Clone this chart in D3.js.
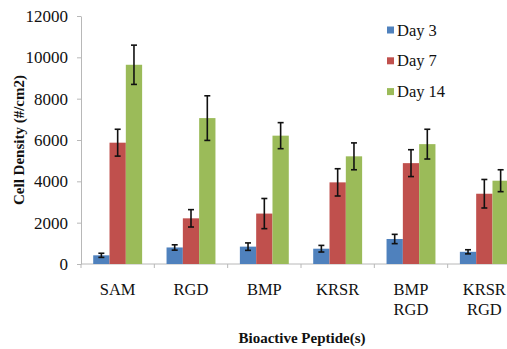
<!DOCTYPE html>
<html><head><meta charset="utf-8">
<script src="https://cdn.jsdelivr.net/npm/d3@7"></script>
<style>body{margin:0;background:#fff;} svg{display:block;} svg text{font-family:"Liberation Serif","Times New Roman",serif;}</style>
</head><body>
<svg id="c" width="507" height="349"></svg>
<script>
const categories = ["SAM", "RGD", "BMP", "KRSR", "BMP\nRGD", "KRSR\nRGD"];
const seriesNames = ["Day 3", "Day 7", "Day 14"];
const day3 = [420, 800, 840, 740, 1210, 590];
const day3Err = [100, 130, 180, 160, 225, 100];
const day7 = [5870, 2210, 2440, 3950, 4880, 3400];
const day7Err = [650, 420, 730, 660, 650, 690];
const day14 = [9640, 7060, 6210, 5210, 5800, 4030];
const day14Err = [950, 1080, 630, 650, 720, 530];
const yTicks = [0, 2000, 4000, 6000, 8000, 10000, 12000];
const colors = ["#4F81BD", "#C0504D", "#9BBB59"];

const values = [day3, day7, day14];
const errs = [day3Err, day7Err, day14Err];

const svg = d3.select("#c");
const pLeft = 81, pRight = 521, pTop = 16, pBottom = 264;

const y = d3.scaleLinear().domain([0, 12000]).range([pBottom, pTop]);
const x0 = d3.scaleBand().domain(d3.range(categories.length)).range([pLeft, pRight])
  .paddingInner(0.333).paddingOuter(0.1665);
const x1 = d3.scaleBand().domain(d3.range(seriesNames.length)).range([0, x0.bandwidth()]);
const step = x0.step();

// Y axis
const yAxis = d3.axisLeft(y).tickValues(yTicks).tickFormat(d3.format("d"))
  .tickSize(4).tickSizeOuter(0).tickPadding(9);
const gy = svg.append("g").attr("transform", `translate(${pLeft},0)`).call(yAxis);
gy.attr("font-family", null);
gy.select(".domain").attr("stroke", "#b8b8b8");
gy.selectAll(".tick line").attr("stroke", "#b8b8b8");
gy.selectAll(".tick text").attr("font-size", 17).attr("fill", "#111");

// X axis line + ticks at category boundaries
svg.append("line").attr("x1", pLeft).attr("x2", pRight).attr("y1", pBottom).attr("y2", pBottom)
  .attr("stroke", "#b8b8b8");
svg.selectAll(".xt").data(d3.range(categories.length + 1)).join("line")
  .attr("x1", i => pLeft + i * step).attr("x2", i => pLeft + i * step)
  .attr("y1", pBottom).attr("y2", pBottom + 4).attr("stroke", "#b8b8b8");

// Bars
const groups = svg.selectAll(".grp").data(categories).join("g")
  .attr("transform", (d, i) => `translate(${x0(i)},0)`);
groups.each(function(cat, ci) {
  const g = d3.select(this);
  seriesNames.forEach((s, si) => {
    const v = values[si][ci], e = errs[si][ci];
    g.append("rect").attr("x", x1(si)).attr("width", x1.bandwidth())
      .attr("y", y(v)).attr("height", y(0) - y(v)).attr("fill", colors[si]);
    const cx = x1(si) + x1.bandwidth() / 2;
    const eb = g.append("g").attr("stroke", "#111").attr("stroke-width", 1.6);
    eb.append("line").attr("x1", cx).attr("x2", cx).attr("y1", y(v + e)).attr("y2", y(v - e));
    eb.append("line").attr("x1", cx - 3).attr("x2", cx + 3).attr("y1", y(v + e)).attr("y2", y(v + e));
    eb.append("line").attr("x1", cx - 3).attr("x2", cx + 3).attr("y1", y(v - e)).attr("y2", y(v - e));
  });
});

// Category labels
categories.forEach((c, i) => {
  const t = svg.append("text").attr("font-size", 16.5).attr("fill", "#111")
    .attr("text-anchor", "middle").attr("x", x0(i) + x0.bandwidth() / 2).attr("y", 295);
  c.split("\n").forEach((line, li) => {
    t.append("tspan").attr("x", x0(i) + x0.bandwidth() / 2).attr("dy", li === 0 ? 0 : 20).text(line);
  });
});

// Axis titles
svg.append("text").attr("font-size", 15).attr("font-weight", "bold")
  .attr("text-anchor", "middle").attr("x", 302).attr("y", 343).attr("fill", "#111")
  .text("Bioactive Peptide(s)");
svg.append("text").attr("font-size", 15).attr("font-weight", "bold")
  .attr("text-anchor", "middle").attr("transform", "translate(24,140) rotate(-90)").attr("fill", "#111")
  .text("Cell Density (#/cm2)");

// Legend
const lg = svg.append("g");
seriesNames.forEach((s, i) => {
  const yy = 30 + i * 30.8;
  lg.append("rect").attr("x", 387).attr("y", yy - 3.5).attr("width", 7).attr("height", 7).attr("fill", colors[i]);
  lg.append("text").attr("x", 397).attr("y", yy + 5.5).attr("font-size", 16.5)
    .attr("fill", "#111").text(s);
});
</script>
</body></html>
